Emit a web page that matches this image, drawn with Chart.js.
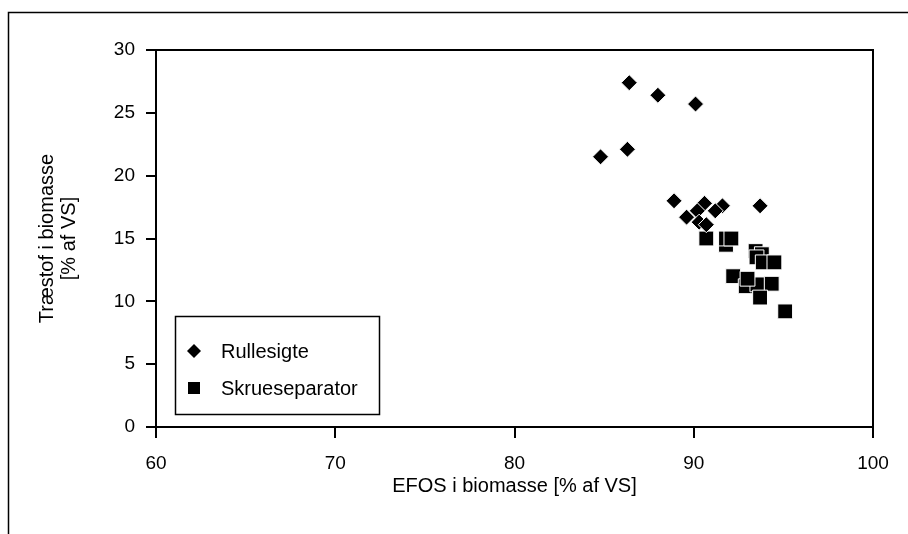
<!DOCTYPE html>
<html>
<head>
<meta charset="utf-8">
<script src="https://cdn.jsdelivr.net/npm/chart.js@4"></script>
<style>
html,body{margin:0;padding:0;background:#fff;}
canvas{display:block;}
</style>
</head>
<body>
<canvas id="c" width="908" height="534"></canvas>
<script>
// ---- data ----
const rullesigteX = [86.4, 88.0, 90.1, 84.8, 86.3, 88.9, 90.6, 91.6, 93.7, 90.2, 91.2, 89.6, 90.3, 90.7];
const rullesigteY = [27.4, 26.4, 25.7, 21.5, 22.1, 18.0, 17.8, 17.6, 17.6, 17.2, 17.2, 16.7, 16.3, 16.1];
const skrueX = [90.7, 91.8, 91.8, 92.1, 93.45, 93.8, 93.5, 93.85, 94.5, 92.2, 92.9, 93.55, 94.35, 93.0, 93.7, 95.1];
const skrueY = [15.0, 14.5, 15.0, 15.0, 14.0, 13.75, 13.5, 13.1, 13.1, 12.0, 11.2, 11.35, 11.4, 11.8, 10.3, 9.2];
const seriesNames = ['Rullesigte', 'Skrueseparator'];
const xTitle = 'EFOS i biomasse [% af VS]';
const yTitle = ['Træstof i biomasse', '[% af VS]'];

const toPts = (xs, ys) => xs.map((x, i) => ({x: x, y: ys[i]}));
const FONT = "'Liberation Sans', Arial, sans-serif";

const framePlugin = {
  id: 'frame',
  beforeDraw(chart) {
    const ctx = chart.ctx;
    ctx.save();
    ctx.fillStyle = '#fff';
    ctx.fillRect(0, 0, chart.width, chart.height);
    ctx.strokeStyle = '#000';
    ctx.lineWidth = 1.5;
    ctx.strokeRect(8.5, 12.5, 3000, 3000);
    ctx.restore();
  },
  afterDraw(chart) {
    const ctx = chart.ctx;
    const a = chart.chartArea;
    ctx.save();
    ctx.strokeStyle = '#000';
    ctx.lineWidth = 2;
    ctx.beginPath();
    ctx.moveTo(a.left, a.top);
    ctx.lineTo(a.right, a.top);
    ctx.lineTo(a.right, a.bottom);
    ctx.stroke();
    // legend box inside plot
    const bx = 175, by = 316, bw = 204, bh = 98;
    ctx.lineWidth = 1.5;
    ctx.fillStyle = '#fff';
    ctx.fillRect(bx, by, bw, bh);
    ctx.strokeRect(bx + 0.5, by + 0.5, bw, bh);
    ctx.font = '20px ' + FONT;
    ctx.textBaseline = 'middle';
    ctx.textAlign = 'left';
    chart.data.datasets.forEach((ds, i) => {
      const cy = i === 0 ? 351 : 388;
      const cx = 194;
      ctx.fillStyle = '#000';
      ctx.beginPath();
      if (ds.pointStyle === 'rectRot') {
        const r = 7;
        ctx.moveTo(cx - r, cy); ctx.lineTo(cx, cy - r); ctx.lineTo(cx + r, cy); ctx.lineTo(cx, cy + r);
        ctx.closePath();
      } else {
        ctx.rect(cx - 6, cy - 6, 12, 12);
      }
      ctx.fill();
      ctx.fillText(ds.label, 221, cy + 1);
    });
    ctx.restore();
  }
};

new Chart(document.getElementById('c'), {
  type: 'scatter',
  data: {
    datasets: [
      {
        label: seriesNames[0],
        data: toPts(rullesigteX, rullesigteY),
        pointStyle: 'rectRot',
        pointRadius: 8,
        pointHoverRadius: 8,
        backgroundColor: '#000',
        borderColor: '#fff',
        borderWidth: 1
      },
      {
        label: seriesNames[1],
        data: toPts(skrueX, skrueY),
        pointStyle: 'rect',
        pointRadius: 10.5,
        pointHoverRadius: 10.5,
        backgroundColor: '#000',
        borderColor: '#fff',
        borderWidth: 1
      }
    ]
  },
  options: {
    responsive: false,
    animation: false,
    events: [],
    layout: {padding: {left: 0, top: 50, right: 35, bottom: 0}},
    plugins: {legend: {display: false}, tooltip: {enabled: false}},
    scales: {
      x: {
        type: 'linear',
        min: 60, max: 100,
        afterFit(s) { s.height = 107; },
        ticks: {stepSize: 10, color: '#000', padding: 14, font: {family: FONT, size: 19}},
        grid: {drawOnChartArea: false, drawTicks: true, tickLength: 11, color: '#000', lineWidth: 2},
        border: {display: true, color: '#000', width: 2},
        title: {display: true, text: xTitle, color: '#000', font: {family: FONT, size: 20, lineHeight: 1.2}, padding: {top: 0, bottom: 36}}
      },
      y: {
        type: 'linear',
        min: 0, max: 30,
        afterFit(s) { s.width = 156; },
        ticks: {stepSize: 5, color: '#000', padding: 11, font: {family: FONT, size: 19}},
        grid: {drawOnChartArea: false, drawTicks: true, tickLength: 10, color: '#000', lineWidth: 2},
        border: {display: true, color: '#000', width: 2},
        title: {display: true, text: yTitle, color: '#000', font: {family: FONT, size: 20, lineHeight: 1.1}, padding: {top: 36, bottom: 0}}
      }
    }
  },
  plugins: [framePlugin]
});
</script>
</body>
</html>
